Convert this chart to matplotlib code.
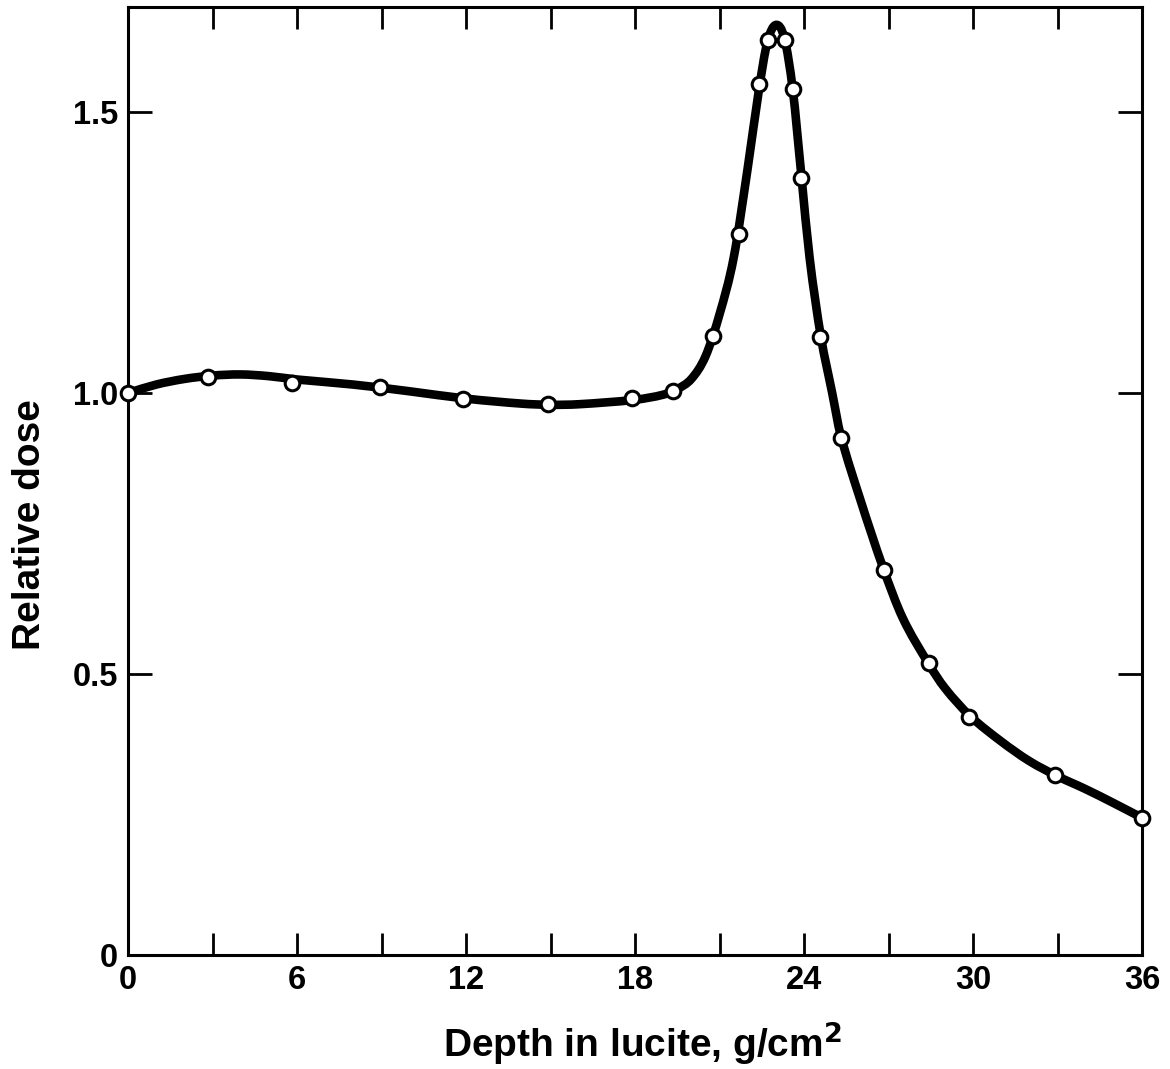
import matplotlib.pyplot as plt
from matplotlib.path import Path
from matplotlib.patches import PathPatch

# measured points (open circles)
depth = [0.0, 2.84, 5.82, 8.95, 11.89, 14.91, 17.89, 19.35, 20.77, 21.69,
         22.40, 22.72, 23.32, 23.60, 23.89, 24.57, 25.31, 26.84, 28.44,
         29.86, 32.91, 36.0]
dose = [1.000, 1.028, 1.018, 1.011, 0.989, 0.980, 0.991, 1.004, 1.101, 1.283,
        1.550, 1.628, 1.628, 1.541, 1.383, 1.100, 0.920, 0.685, 0.520,
        0.423, 0.320, 0.244]

# smooth curve
curve_x = [0, 1, 2, 3, 4, 5, 6, 8, 10, 12, 14, 15, 16, 18, 19, 19.5, 20,
           20.5, 21, 21.5, 22, 22.4, 22.7, 23.0, 23.3, 23.6,
           23.9, 24.2, 24.6, 25.0, 25.3, 26.0, 26.8, 27.5, 28.4, 29.0, 29.9,
           31.0, 32.0, 33.0, 34.0, 35.0, 36.0]
curve_y = [1.000, 1.015, 1.025, 1.031, 1.033, 1.030, 1.024, 1.015, 1.003,
           0.990, 0.981, 0.979, 0.980, 0.988, 0.997, 1.007, 1.025, 1.065,
           1.140, 1.240, 1.400, 1.540, 1.625, 1.655, 1.632,
           1.540, 1.390, 1.240, 1.100, 1.000, 0.925, 0.810, 0.690, 0.600,
           0.520, 0.475, 0.425, 0.380, 0.345, 0.318, 0.295, 0.270, 0.244]

xticks = list(range(0, 37, 3))
xlabels = [str(t) if t % 6 == 0 else "" for t in xticks]
yticks = [0, 0.5, 1.0, 1.5]
ylabels = ["0", "0.5", "1.0", "1.5"]


def smooth_path(xs, ys):
    # cubic Hermite through the traced points, as bezier segments
    n = len(xs)
    m = []
    for i in range(n):
        a = max(i - 1, 0)
        b = min(i + 1, n - 1)
        m.append((ys[b] - ys[a]) / (xs[b] - xs[a]))
    verts = [(xs[0], ys[0])]
    codes = [Path.MOVETO]
    for i in range(n - 1):
        h = xs[i + 1] - xs[i]
        verts += [(xs[i] + h / 3, ys[i] + m[i] * h / 3),
                  (xs[i + 1] - h / 3, ys[i + 1] - m[i + 1] * h / 3),
                  (xs[i + 1], ys[i + 1])]
        codes += [Path.CURVE4] * 3
    return Path(verts, codes)


plt.rcParams['font.family'] = ['Liberation Sans', 'DejaVu Sans']
plt.rcParams['font.weight'] = 'bold'
plt.rcParams['axes.labelweight'] = 'bold'

fig = plt.figure(figsize=(11.7, 10.69), dpi=100)
ax = fig.add_axes([0.1094, 0.1067, 0.8667, 0.8868])

ax.add_patch(PathPatch(smooth_path(curve_x, curve_y), fill=False,
                       edgecolor="black", lw=6.2, joinstyle="round",
                       capstyle="round", clip_on=False, zorder=2))
ax.plot(depth, dose, "o", ms=10.5, mfc="white", mec="black", mew=2.2,
        clip_on=False, zorder=3)

ax.set_xlim(0, 36)
ax.set_ylim(0, 1.687)
ax.set_xticks(xticks)
ax.set_xticklabels(xlabels)
ax.set_yticks(yticks)
ax.set_yticklabels(ylabels)

for s in ax.spines.values():
    s.set_linewidth(2.2)
ax.tick_params(direction="in", length=16, width=2, labelsize=23.5,
               top=True, right=True, pad=7)
ax.tick_params(axis="y", length=17, pad=7)

ax.set_xlabel("Depth in lucite, g/cm$^\\mathbf{2}$", fontsize=28)
ax.set_ylabel("Relative dose", fontsize=28)
ax.xaxis.set_label_coords(0.507, -0.068)
ax.yaxis.set_label_coords(-0.079, 0.454)

fig.savefig("out.png", dpi=100)
